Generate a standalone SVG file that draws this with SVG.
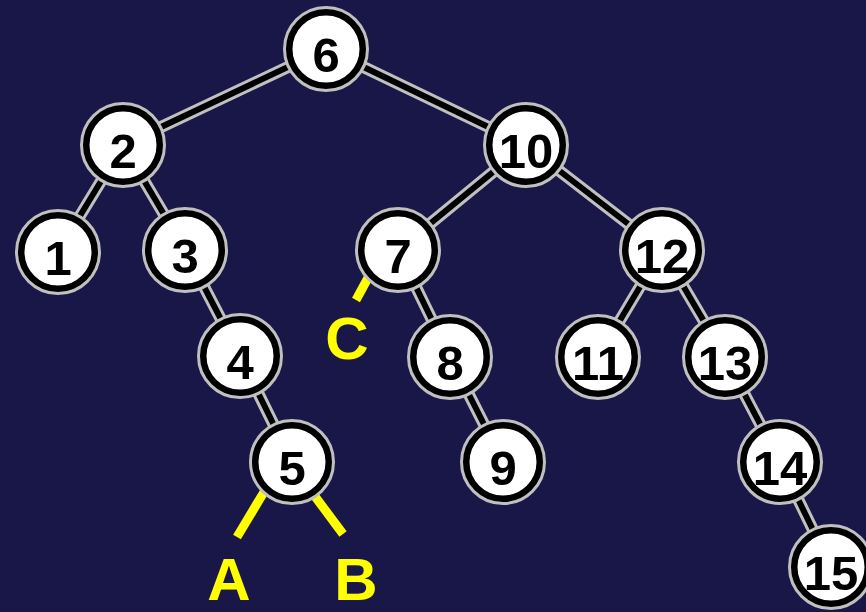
<svg xmlns="http://www.w3.org/2000/svg" xmlns:xlink="http://www.w3.org/1999/xlink" width="866" height="612" viewBox="0 0 866 612">
<style>
.bg{fill:#191748}
.eo{fill:none;stroke:#c0c0c0;stroke-width:12}
.ei{fill:none;stroke:#000;stroke-width:6}
.ring{fill:#fff;stroke:#c0c0c0;stroke-width:5}
.core{fill:none;stroke:#000;stroke-width:6.5}
.num{font-family:"Liberation Sans",Arial,sans-serif;font-weight:bold;font-size:49px;fill:#000;text-anchor:middle}
.yl{stroke:#ffff00;stroke-width:9;fill:none}
.lab{font-family:"Liberation Sans",Arial,sans-serif;font-weight:bold;font-size:60px;fill:#ffff00;text-anchor:middle}
</style>
<defs>
<g id="nd"><circle r="40.5" class="ring"/><circle r="36.75" class="core"/></g>
<path id="edges" d="M326 49L123 145M326 49L526 145M123 145L58 252M123 145L185 250M185 250L240 356M240 356L292 462M526 145L398 250M526 145L662 250M398 250L450 357M450 357L503 462M662 250L598 357M662 250L725 357M725 357L780 462M780 462L831 567"/>
</defs>
<rect class="bg" width="866" height="612"/>
<g id="connectors">
<use xlink:href="#edges" class="eo"/>
<use xlink:href="#edges" class="ei"/>
</g>
<g id="pointers">
<line class="yl" x1="276" y1="472" x2="237" y2="537"/>
<line class="yl" x1="305" y1="483" x2="343" y2="534"/>
<line class="yl" x1="375" y1="265" x2="356" y2="300"/>
<text class="lab" x="229" y="600">A</text>
<text class="lab" x="356" y="600">B</text>
<text class="lab" x="347" y="359">C</text>
</g>
<g id="n6" transform="translate(326 49)"><use xlink:href="#nd"/><text class="num" y="23">6</text></g>
<g id="n2" transform="translate(123 145)"><use xlink:href="#nd"/><text class="num" y="23">2</text></g>
<g id="n10" transform="translate(526 145)"><use xlink:href="#nd"/><text class="num" y="23">10</text></g>
<g id="n1" transform="translate(58 252)"><use xlink:href="#nd"/><text class="num" y="23">1</text></g>
<g id="n3" transform="translate(185 250)"><use xlink:href="#nd"/><text class="num" y="23">3</text></g>
<g id="n7" transform="translate(398 250)"><use xlink:href="#nd"/><text class="num" y="23">7</text></g>
<g id="n12" transform="translate(662 250)"><use xlink:href="#nd"/><text class="num" y="23">12</text></g>
<g id="n4" transform="translate(240 356)"><use xlink:href="#nd"/><text class="num" y="23">4</text></g>
<g id="n8" transform="translate(450 357)"><use xlink:href="#nd"/><text class="num" y="23">8</text></g>
<g id="n11" transform="translate(598 357)"><use xlink:href="#nd"/><text class="num" y="23">11</text></g>
<g id="n13" transform="translate(725 357)"><use xlink:href="#nd"/><text class="num" y="23">13</text></g>
<g id="n5" transform="translate(292 462)"><use xlink:href="#nd"/><text class="num" y="23">5</text></g>
<g id="n9" transform="translate(503 462)"><use xlink:href="#nd"/><text class="num" y="23">9</text></g>
<g id="n14" transform="translate(780 462)"><use xlink:href="#nd"/><text class="num" y="23">14</text></g>
<g id="n15" transform="translate(831 567)"><use xlink:href="#nd"/><text class="num" y="23">15</text></g>
</svg>
